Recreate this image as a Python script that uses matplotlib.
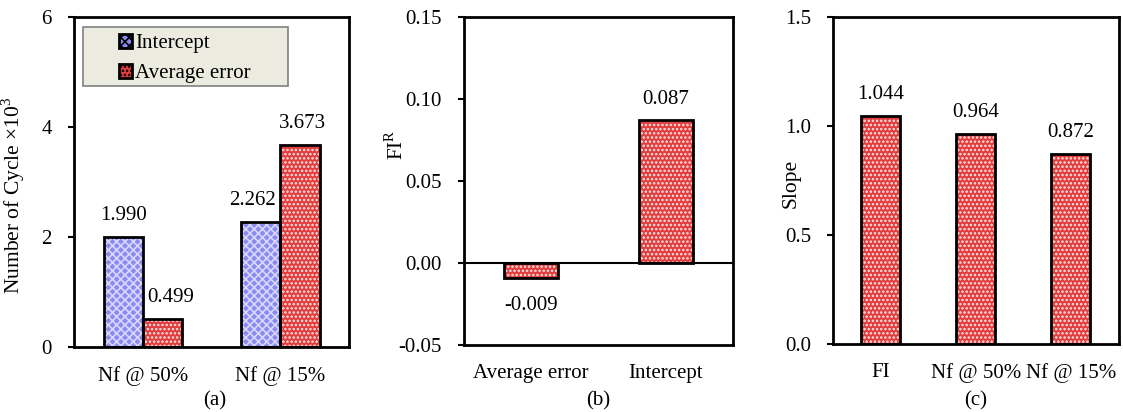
import matplotlib
matplotlib.use("Agg")
import matplotlib.pyplot as plt
from matplotlib.patches import Rectangle
import numpy as np

plt.rcParams['font.family'] = ['Liberation Serif', 'DejaVu Serif']
plt.rcParams['mathtext.fontset'] = 'custom'
plt.rcParams['mathtext.rm'] = 'Liberation Serif'
plt.rcParams['hatch.linewidth'] = 1.2

# data
a_groups = ['Nf @ 50%', 'Nf @ 15%']
a_intercept = [1.990, 2.262]
a_avg_error = [0.499, 3.673]

b_cats = ['Average error', 'Intercept']
b_vals = [-0.009, 0.087]

c_cats = ['FI', 'Nf @ 50%', 'Nf @ 15%']
c_vals = [1.044, 0.964, 0.872]

BLUE = '#8a8af2'
BLUE_HATCH = '#d8d8ff'
RED = '#e23c3c'
RED_HATCH = '#fbe6e6'


def hatched_bar(ax, x, h, w, face, hcolor, hatch):
    ax.bar(x, h, w, color=face, edgecolor=hcolor, hatch=hatch, linewidth=0, zorder=2)
    ax.bar(x, h, w, fill=False, edgecolor='black', linewidth=2, zorder=3)


def style(ax):
    for s in ax.spines.values():
        s.set_linewidth(2)
    ax.tick_params(axis='y', direction='out', length=4, width=1.5, labelsize=15, pad=12)
    ax.tick_params(axis='x', length=0, labelsize=15, pad=14)


fig = plt.figure(figsize=(11.23, 4.12), dpi=100)
ax1 = fig.add_axes([0.066, 0.158, 0.245, 0.801])
ax2 = fig.add_axes([0.413, 0.163, 0.240, 0.796])
ax3 = fig.add_axes([0.742, 0.165, 0.254, 0.794])

# (a)
x = np.arange(len(a_groups))
w = 0.285
# small sideways nudges of the value labels, as in the original
nudge_int = [0, -6]
nudge_err = [6, 2]
for i in range(len(x)):
    hatched_bar(ax1, x[i] - w / 2, a_intercept[i], w, BLUE, BLUE_HATCH, 'xxxx')
    hatched_bar(ax1, x[i] + w / 2, a_avg_error[i], w, RED, RED_HATCH, '....')
    ax1.annotate('%.3f' % a_intercept[i], (x[i] - w / 2, a_intercept[i] + 0.22),
                 xytext=(nudge_int[i], 0), textcoords='offset points',
                 ha='center', va='bottom', fontsize=15)
    ax1.annotate('%.3f' % a_avg_error[i], (x[i] + w / 2, a_avg_error[i] + 0.22),
                 xytext=(nudge_err[i], 0), textcoords='offset points',
                 ha='center', va='bottom', fontsize=15)
ax1.set_xlim(-0.5, 1.5)
ax1.set_ylim(0, 6)
ax1.set_yticks([0, 2, 4, 6])
ax1.set_xticks(x)
ax1.set_xticklabels(a_groups)
ax1.set_ylabel('Number of Cycle ×10$^{3}$', fontsize=15.5)
ax1.yaxis.set_label_coords(-0.17, 0.46)

# legend box drawn by hand, wider than the entries
ax1.add_patch(Rectangle((0.033, 0.79), 0.745, 0.18, transform=ax1.transAxes,
                        facecolor='#ecebe0', edgecolor='#808080', linewidth=1.2, zorder=5))
h1 = Rectangle((0, 0), 1, 1, facecolor=BLUE, edgecolor='black', hatch='xxxx', linewidth=2)
h2 = Rectangle((0, 0), 1, 1, facecolor=RED, edgecolor='black', hatch='....', linewidth=2)
leg = ax1.legend([h1, h2], ['Intercept', 'Average error'], loc='upper left',
                 bbox_to_anchor=(0.14, 0.968), fontsize=15, frameon=False,
                 handlelength=0.62, handleheight=0.68, handletextpad=0.15,
                 borderpad=0.3, labelspacing=0.5, borderaxespad=0)
leg.set_zorder(6)
style(ax1)

# (b)
x = np.arange(len(b_cats))
for i in range(len(x)):
    hatched_bar(ax2, x[i], b_vals[i], 0.4, RED, RED_HATCH, '....')
    if b_vals[i] >= 0:
        ax2.text(x[i], b_vals[i] + 0.007, '%.3f' % b_vals[i], ha='center', va='bottom', fontsize=15)
    else:
        ax2.text(x[i], b_vals[i] - 0.011, '%.3f' % b_vals[i], ha='center', va='top', fontsize=15)
ax2.axhline(0, color='black', linewidth=1.5, zorder=4)
ax2.set_xlim(-0.5, 1.5)
ax2.set_ylim(-0.05, 0.15)
ax2.set_yticks([-0.05, 0, 0.05, 0.10, 0.15])
ax2.set_yticklabels(['-0.05', '0.00', '0.05', '0.10', '0.15'])
ax2.set_xticks(x)
ax2.set_xticklabels(b_cats)
ax2.set_ylabel('FI$^{\\mathrm{R}}$', fontsize=15)
ax2.yaxis.set_label_coords(-0.208, 0.61)
style(ax2)

# (c)
x = np.arange(len(c_cats))
for i in range(len(x)):
    hatched_bar(ax3, x[i], c_vals[i], 0.41, RED, RED_HATCH, '....')
    ax3.text(x[i], c_vals[i] + 0.055, '%.3f' % c_vals[i], ha='center', va='bottom', fontsize=15)
ax3.set_xlim(-0.5, 2.5)
ax3.set_ylim(0, 1.5)
ax3.set_yticks([0, 0.5, 1.0, 1.5])
ax3.set_yticklabels(['0.0', '0.5', '1.0', '1.5'])
ax3.set_xticks(x)
ax3.set_xticklabels(c_cats)
ax3.set_ylabel('Slope', fontsize=15.5)
ax3.yaxis.set_label_coords(-0.116, 0.49)
style(ax3)

fig.text(0.191, 0.015, '(a)', ha='center', fontsize=15)
fig.text(0.533, 0.015, '(b)', ha='center', fontsize=15)
fig.text(0.869, 0.015, '(c)', ha='center', fontsize=15)

fig.savefig('out.png', dpi=100)
